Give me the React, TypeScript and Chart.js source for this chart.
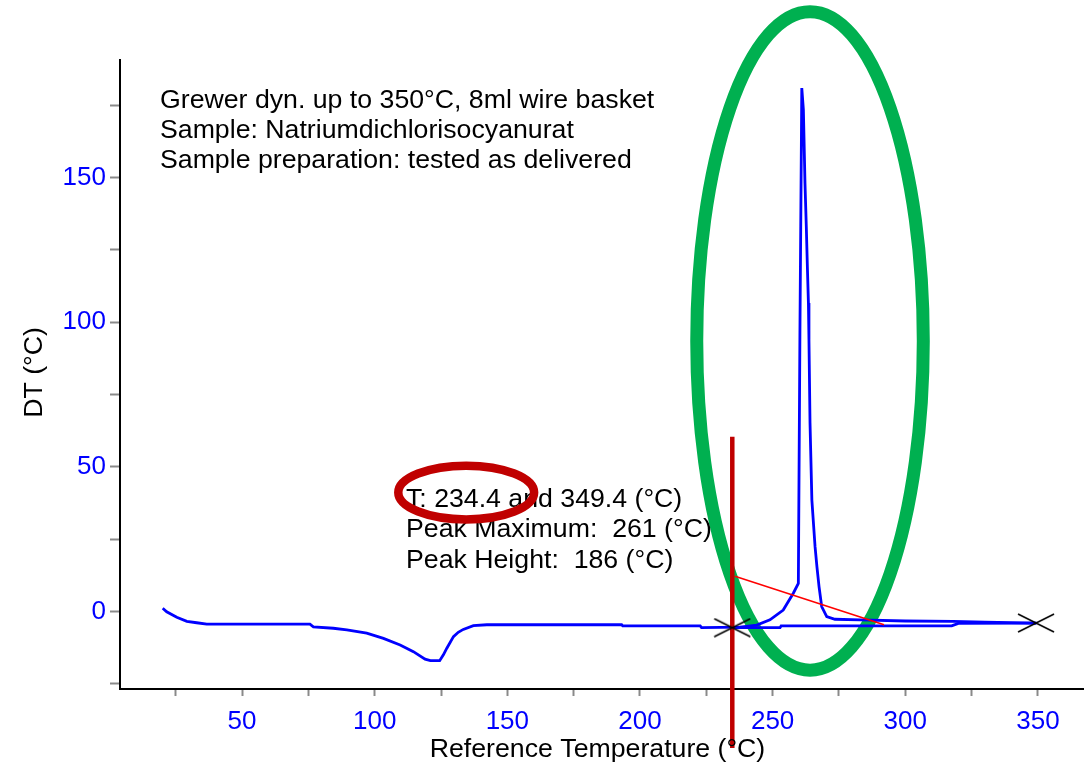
import { useEffect, useRef } from "react";
import { Chart, registerables } from "chart.js";

Chart.register(...registerables);

// ---- data ----
const curveT = [
  20.1, 21.6, 25.4, 29.2, 32.9, 36.7, 75.6, 76.9, 84.4, 89.5, 97.0, 103.3, 109.6, 114.6, 119.0, 121.0,
  124.5, 125.9, 127.2, 129.7, 131.5, 133.4, 137.2, 142.3, 193.1, 193.5, 222.7, 223.2, 237.7, 244.0,
  249.0, 254.0, 257.8, 259.7, 260.3, 261.0, 261.6, 262.2, 262.7, 263.1, 263.5, 263.7, 264.1, 264.8,
  266.0, 266.7, 267.5, 268.5, 270.4, 273.5, 283.0, 300.0, 318.0, 330.0, 349.4,
];
const curveDT = [
  1.1, -0.1, -2.0, -3.4, -3.9, -4.4, -4.4, -5.3, -5.8, -6.4, -7.5, -9.3, -11.6, -13.9, -16.5, -17.0,
  -17.0, -15.0, -12.7, -8.7, -7.2, -6.2, -4.9, -4.6, -4.6, -5.0, -5.0, -5.6, -5.4, -4.7,
  -2.9, 0.5, 6.3, 9.7, 97.0, 180.9, 173.4, 148.1, 133.0, 119.2, 106.6, 93.9, 65.2, 38.5,
  22.4, 15.5, 8.6, 1.7, -1.8, -2.7, -2.9, -3.3, -3.4, -3.7, -4.0,
];
const baseT = [234.4, 252.8, 253.2, 317.5, 320.0, 349.4];
const baseDT = [-5.6, -5.6, -5.0, -5.0, -4.1, -4.0];
const tangentT = [235.8, 292.0];
const tangentDT = [12.2, -4.6];
const markerT = [234.8, 234.8];
const markerDT = [60.4, -47.2];
const limitT = [234.8, 349.3];
const limitDT = [-5.6, -4.0];

const xTickValues = [25, 50, 75, 100, 125, 150, 175, 200, 225, 250, 275, 300, 325, 350];
const yTickValues = [-25, 0, 25, 50, 75, 100, 125, 150, 175];

const infoLines = [
  "Grewer dyn. up to 350°C, 8ml wire basket",
  "Sample: Natriumdichlorisocyanurat",
  "Sample preparation: tested as delivered",
];
const resultLines = [
  "T: 234.4 and 349.4 (°C)",
  "Peak Maximum:  261 (°C)",
  "Peak Height:  186 (°C)",
];
const xTitle = "Reference Temperature (°C)";
const yTitle = "DT (°C)";

// annotation ellipses (data units)
const greenEllipse = { t: 264.1, dt: 93.5, rt: 42.7, rdt: 113.8 };
const redEllipse = { t: 134.5, dt: 41.1, rt: 25.6, rdt: 9.3 };

const FONT = "'Liberation Sans', Arial, sans-serif";

function pts(xs: number[], ys: number[]) {
  return xs.map((v, i) => ({ x: v, y: ys[i] }));
}

export default function App() {
  const ref = useRef<HTMLCanvasElement | null>(null);

  useEffect(() => {
    document.body.style.margin = "0";
    const canvas = ref.current!;

    const mk = document.createElement("canvas");
    mk.width = 38;
    mk.height = 20;
    const mctx = mk.getContext("2d")!;
    mctx.strokeStyle = "#000";
    mctx.lineWidth = 1.6;
    mctx.beginPath();
    mctx.moveTo(1, 1);
    mctx.lineTo(37, 19);
    mctx.moveTo(1, 19);
    mctx.lineTo(37, 1);
    mctx.stroke();

    const annot = {
      id: "annot",
      beforeDatasetsDraw(chart: any) {
        const { ctx, scales } = chart;
        const x = scales.x;
        const y = scales.y;
        const ell = (e: any, color: string, w: number) => {
          const cx = x.getPixelForValue(e.t);
          const cy = y.getPixelForValue(e.dt);
          const rx = Math.abs(x.getPixelForValue(e.t + e.rt) - cx);
          const ry = Math.abs(y.getPixelForValue(e.dt + e.rdt) - cy);
          ctx.beginPath();
          ctx.ellipse(cx, cy, rx, ry, 0, 0, Math.PI * 2);
          ctx.strokeStyle = color;
          ctx.lineWidth = w;
          ctx.stroke();
        };
        ctx.save();
        ell(greenEllipse, "#00b050", 13);
        ctx.fillStyle = "#000";
        ctx.font = `26.7px ${FONT}`;
        ctx.textAlign = "left";
        ctx.textBaseline = "alphabetic";
        infoLines.forEach((s, i) => ctx.fillText(s, 160, 107.5 + i * 30.3));
        resultLines.forEach((s, i) => ctx.fillText(s, 406, 506.5 + i * 30.5));
        ell(redEllipse, "#c00000", 8.5);
        ctx.restore();
      },
      afterDraw(chart: any) {
        const { ctx, chartArea } = chart;
        ctx.save();
        ctx.fillStyle = "#000";
        ctx.font = `26.7px ${FONT}`;
        ctx.textAlign = "center";
        ctx.textBaseline = "alphabetic";
        ctx.fillText(xTitle, (chartArea.left + chartArea.right) / 2 - 4, 757);
        ctx.translate(42, (chartArea.top + chartArea.bottom) / 2 - 2);
        ctx.rotate(-Math.PI / 2);
        ctx.fillText(yTitle, 0, 0);
        ctx.restore();
      },
    };

    const line = (data: any, color: string, width: number, extra: any = {}) => ({
      data,
      showLine: true,
      borderColor: color,
      backgroundColor: color,
      borderWidth: width,
      pointRadius: 0,
      pointHoverRadius: 0,
      tension: 0,
      ...extra,
    });

    const chart = new Chart(canvas, {
      type: "scatter",
      data: {
        datasets: [
          {
            data: pts(limitT, limitDT),
            showLine: false,
            pointStyle: mk as any,
            pointRadius: 10,
            clip: false as any,
          },
          line(pts(markerT, markerDT), "#c00000", 4.5, { clip: false, borderCapStyle: "butt" }),
          line(pts(tangentT, tangentDT), "#ff0000", 1.6),
          line(pts(baseT, baseDT), "#0000ff", 2.8),
          line(pts(curveT, curveDT), "#0000ff", 2.8),
        ] as any,
      },
      plugins: [annot],
      options: {
        animation: false,
        responsive: false,
        maintainAspectRatio: false,
        events: [],
        layout: { autoPadding: false, padding: { top: 60, right: 5, left: 0, bottom: 0 } },
        plugins: {
          legend: { display: false },
          tooltip: { enabled: false },
          title: { display: false },
        },
        scales: {
          x: {
            type: "linear",
            position: "bottom",
            min: 4,
            max: 367,
            afterFit: (s: any) => {
              s.height = 77;
              s.paddingRight = 0;
              s.paddingLeft = 0;
            },
            afterBuildTicks: (s: any) => {
              s.ticks = xTickValues.map((v) => ({ value: v }));
            },
            grid: {
              display: true,
              drawOnChartArea: false,
              drawTicks: true,
              tickLength: 7,
              tickColor: "#8a8a8a",
              tickWidth: 2,
            },
            border: { display: true, color: "#000", width: 2 },
            ticks: {
              color: "#0000ff",
              font: { family: FONT, size: 26 },
              padding: 10,
              maxRotation: 0,
              autoSkip: false,
              callback: (v: any) => (Number(v) % 50 === 0 ? String(v) : ""),
            },
          },
          y: {
            type: "linear",
            min: -26.8,
            max: 190.6,
            afterFit: (s: any) => {
              s.width = 120;
              s.paddingTop = 0;
              s.paddingBottom = 0;
            },
            afterBuildTicks: (s: any) => {
              s.ticks = yTickValues.map((v) => ({ value: v }));
            },
            grid: {
              display: true,
              drawOnChartArea: false,
              drawTicks: true,
              tickLength: 10,
              tickColor: "#8a8a8a",
              tickWidth: 2,
            },
            border: { display: true, color: "#000", width: 2 },
            ticks: {
              color: "#0000ff",
              font: { family: FONT, size: 26 },
              padding: 4,
              autoSkip: false,
              callback: (v: any) => (Number(v) % 50 === 0 ? String(v) : ""),
            },
          },
        },
      } as any,
    });

    return () => chart.destroy();
  }, []);

  return (
    <div style={{ position: "absolute", left: 0, top: 0, width: 1088, height: 766, background: "#fff" }}>
      <canvas ref={ref} width={1088} height={766} style={{ display: "block", width: 1088, height: 766 }} />
    </div>
  );
}
